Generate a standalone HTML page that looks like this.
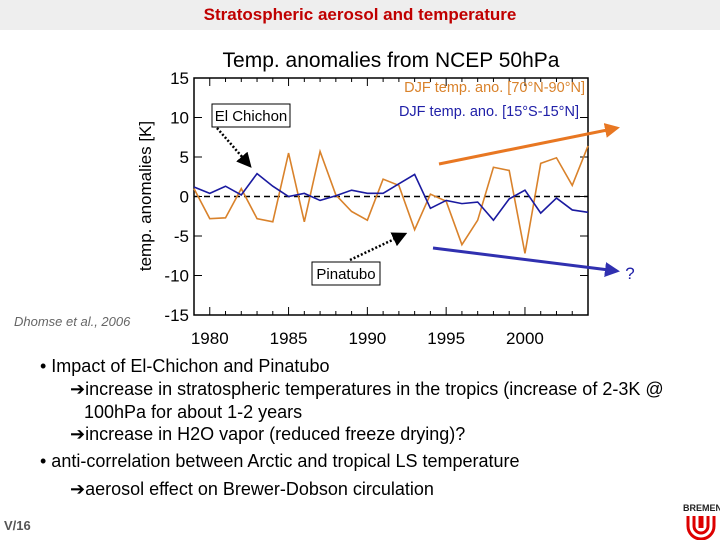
<!DOCTYPE html>
<html><head><meta charset="utf-8"><style>
body{margin:0;width:720px;height:540px;background:#fff;overflow:hidden;font-family:"Liberation Sans",sans-serif;position:relative}
.hdr{position:absolute;left:0;top:0;width:720px;height:30px;background:#eeeeee;}
.hdr span{position:absolute;left:0;width:720px;top:5px;text-align:center;color:#c00000;font-size:17px;font-weight:bold}
.txt{position:absolute;font-size:18px;color:#000;white-space:nowrap;transform:scaleX(1.0);transform-origin:left}
</style></head><body>
<div class="hdr"><span>Stratospheric aerosol and temperature</span></div>
<svg id="chart" width="720" height="540" style="position:absolute;left:0;top:0"></svg>
<div class="txt" style="left:14px;top:314px;font-size:13px;font-style:italic;color:#666">Dhomse et al., 2006</div>
<div class="txt" style="left:40px;top:356px">• Impact of El-Chichon and Pinatubo</div>
<div class="txt" style="left:70px;top:379px">➔increase in stratospheric temperatures in the  tropics (increase of 2-3K @</div>
<div class="txt" style="left:84px;top:402px">100hPa for about 1-2 years</div>
<div class="txt" style="left:70px;top:424px">➔increase in H2O vapor (reduced freeze drying)?</div>
<div class="txt" style="left:40px;top:451px">• anti-correlation between Arctic and tropical LS temperature</div>
<div class="txt" style="left:70px;top:479px">➔aerosol effect on Brewer-Dobson circulation</div>
<div class="txt" style="left:4px;top:518px;font-size:13px;color:#555;font-weight:bold">V/16</div>
<svg style="position:absolute;left:682px;top:496px" width="38" height="44">
<text x="1" y="15" font-size="9" font-weight="bold" fill="#222" font-family="Liberation Sans">BREMEN</text>
<path d="M6 20 v10 a13 13 0 0 0 26 0 v-10 M12 20 v10 a7 7 0 0 0 14 0 v-10 M18 20 v12 M20 20 v12" stroke="#d00" stroke-width="3" fill="none"/>
</svg>
<script>
const years=[1979,1980,1981,1982,1983,1984,1985,1986,1987,1988,1989,1990,1991,1992,1993,1994,1995,1996,1997,1998,1999,2000,2001,2002,2003,2004];
const arctic=[1.0,-2.8,-2.7,1.0,-2.8,-3.2,5.5,-3.2,5.7,0.2,-1.9,-3.0,2.2,1.4,-4.2,0.3,-0.6,-6.1,-3.0,3.7,3.3,-7.2,4.2,4.9,1.4,6.4];
const tropics=[1.2,0.4,1.3,0.2,2.9,1.3,0.0,0.4,-0.5,0.1,0.8,0.4,0.4,1.6,2.8,-1.5,-0.5,-0.9,-0.7,-3.0,-0.3,0.8,-2.1,-0.2,-1.7,-2.0];
const yTicks=[-15,-10,-5,0,5,10,15];
const xTicks=[1980,1985,1990,1995,2000];
const svg=document.getElementById('chart');
const NS='http://www.w3.org/2000/svg';
const L=194,R=588,T=78,B=315;
const X=v=>L+(v-1979)/(2004-1979)*(R-L);
const Y=v=>B-(v+15)/30*(B-T);
function mk(tag,attrs,parent){const e=document.createElementNS(NS,tag);for(const k in attrs)e.setAttribute(k,attrs[k]);(parent||svg).appendChild(e);return e;}
const defs=mk('defs',{});
const m1=mk('marker',{id:'ah',markerWidth:6,markerHeight:6,refX:5,refY:3,orient:'auto'},defs);mk('path',{d:'M0,0 L6,3 L0,6z',fill:'#000'},m1);
const m2=mk('marker',{id:'ao',markerWidth:5,markerHeight:5,refX:4,refY:2.5,orient:'auto'},defs);mk('path',{d:'M0,0 L5,2.5 L0,5z',fill:'#e87722'},m2);
const m3=mk('marker',{id:'ab',markerWidth:5,markerHeight:5,refX:4,refY:2.5,orient:'auto'},defs);mk('path',{d:'M0,0 L5,2.5 L0,5z',fill:'#3030b0'},m3);
let t=mk('text',{x:391,y:67,'text-anchor':'middle','font-size':21,'font-family':'Liberation Sans'});t.textContent='Temp. anomalies from NCEP 50hPa';

t=mk('text',{x:151,y:196,'text-anchor':'middle','font-size':17,transform:'rotate(-90 151 196)','font-family':'Liberation Sans'});t.textContent='temp. anomalies [K]';

const box=mk('rect',{x:L,y:T,width:R-L,height:B-T,fill:'none',stroke:'#000','stroke-width':1.5});

yTicks.forEach(v=>{mk('line',{x1:L,x2:L+8,y1:Y(v),y2:Y(v),stroke:'#000'});mk('line',{x1:R,x2:R-8,y1:Y(v),y2:Y(v),stroke:'#000'});
 const e=mk('text',{x:L-5,y:Y(v)+6,'text-anchor':'end','font-size':17,'font-family':'Liberation Sans'});e.textContent=v;
 });
for(let yr=1979;yr<=2004;yr++){const len=(yr%5===0)?8:4;mk('line',{x1:X(yr),x2:X(yr),y1:B,y2:B-len,stroke:'#000'});mk('line',{x1:X(yr),x2:X(yr),y1:T,y2:T+len,stroke:'#000'});}
xTicks.forEach(v=>{const e=mk('text',{x:X(v),y:344,'text-anchor':'middle','font-size':17,'font-family':'Liberation Sans'});e.textContent=v;
 });
const zl=mk('line',{x1:L,x2:R,y1:Y(0),y2:Y(0),stroke:'#000','stroke-width':1.5,'stroke-dasharray':'6,4'});

const pa=mk('polyline',{points:years.map((y,i)=>X(y)+','+Y(arctic[i])).join(' '),fill:'none',stroke:'#d9822b','stroke-width':1.6});

const pt=mk('polyline',{points:years.map((y,i)=>X(y)+','+Y(tropics[i])).join(' '),fill:'none',stroke:'#1a1aa0','stroke-width':1.6});

t=mk('text',{x:585,y:92,'text-anchor':'end','font-size':14.5,fill:'#d9822b','font-family':'Liberation Sans'});t.textContent='DJF temp. ano. [70°N-90°N]';

t=mk('text',{x:579,y:116,'text-anchor':'end','font-size':14.5,fill:'#2020a8','font-family':'Liberation Sans'});t.textContent='DJF temp. ano. [15°S-15°N]';

let r=mk('rect',{x:212,y:104,width:78,height:23,fill:'#fff',stroke:'#000'});
t=mk('text',{x:251,y:121,'text-anchor':'middle','font-size':15,'font-family':'Liberation Sans'});t.textContent='El Chichon';

r=mk('rect',{x:312,y:262,width:68,height:23,fill:'#fff',stroke:'#000'});
t=mk('text',{x:346,y:279,'text-anchor':'middle','font-size':15,'font-family':'Liberation Sans'});t.textContent='Pinatubo';

let a=mk('line',{x1:217,y1:128,x2:250,y2:166,stroke:'#000','stroke-width':2.5,'stroke-dasharray':'2,2','marker-end':'url(#ah)'});

a=mk('line',{x1:350,y1:260,x2:405,y2:234,stroke:'#000','stroke-width':2.5,'stroke-dasharray':'2,2','marker-end':'url(#ah)'});

a=mk('line',{x1:439,y1:164,x2:617,y2:128,stroke:'#e87722','stroke-width':3,'marker-end':'url(#ao)'});

a=mk('line',{x1:433,y1:248,x2:617,y2:271,stroke:'#3030b0','stroke-width':3,'marker-end':'url(#ab)'});

t=mk('text',{x:630,y:279,'text-anchor':'middle','font-size':17,fill:'#2020a8','font-family':'Liberation Sans'});t.textContent='?';

</script>
</body></html>
